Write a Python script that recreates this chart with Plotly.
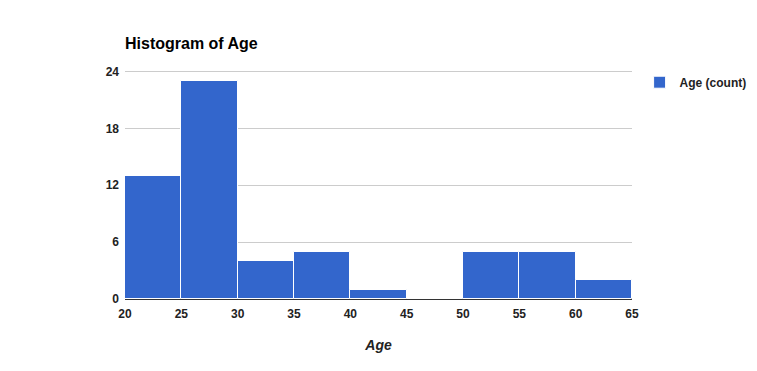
import plotly.graph_objects as go

bin_starts = [20, 25, 30, 35, 40, 45, 50, 55, 60]
counts = [13, 23, 4, 5, 1, 0, 5, 5, 2]
bin_width = 5
x_ticks = [20, 25, 30, 35, 40, 45, 50, 55, 60, 65]
y_ticks = [0, 6, 12, 18, 24]

centers = [s + bin_width / 2 for s in bin_starts]

fig = go.Figure(go.Bar(
    x=centers,
    y=counts,
    width=bin_width,
    name="<b>Age (count)</b>",
    marker=dict(color="#3366cc", line=dict(color="white", width=1)),
))

fig.update_layout(
    width=757, height=371,
    margin=dict(l=125, r=125, t=70, b=72, autoexpand=False),
    plot_bgcolor="white", paper_bgcolor="white",
    font=dict(family="Liberation Sans, Arial", size=12, color="#222222"),
    title=dict(text="<b>Histogram of Age</b>", x=125 / 757, xanchor="left",
               y=1 - 43 / 371, yanchor="middle",
               font=dict(size=16, color="#000000")),
    showlegend=True,
    legend=dict(x=1.015, y=1.01, xanchor="left", yanchor="top",
                font=dict(size=12, color="#222222"), bgcolor="rgba(0,0,0,0)",
                itemwidth=30),
    bargap=0,
)

fig.update_xaxes(
    range=[20, 65], tickvals=x_ticks, ticktext=[f"<b>{t}</b>" for t in x_ticks],
    showgrid=False, zeroline=False, showline=False, ticks="", automargin=False,
    ticklabelstandoff=6,
    title=dict(text="<b><i>Age</i></b>", font=dict(size=14, color="#222222"), standoff=20),
)
fig.update_yaxes(
    range=[0, 24.15], tickvals=y_ticks, ticktext=[f"<b>{t}</b>" for t in y_ticks],
    showgrid=True, gridcolor="#cccccc", gridwidth=1,
    zeroline=True, zerolinecolor="#333333", zerolinewidth=1.5,
    ticks="", ticklabelstandoff=5, automargin=False,
)

fig.write_html("out.html", config={"displayModeBar": False},
               post_script="document.body.style.margin='0';")
